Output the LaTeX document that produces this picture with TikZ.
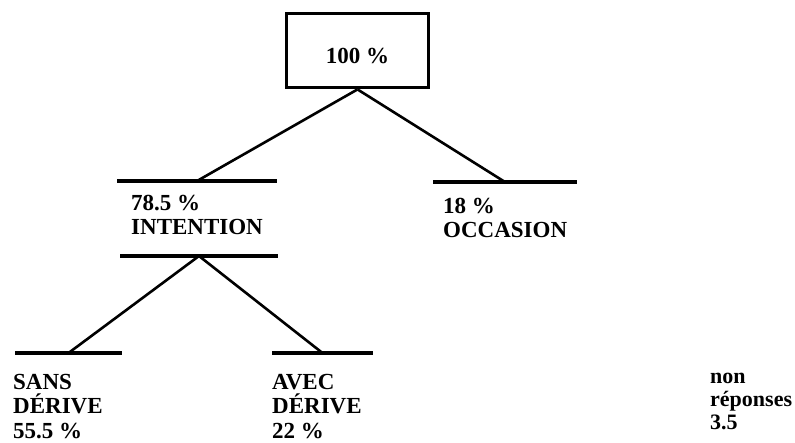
\documentclass[tikz,border=0pt]{standalone}
\usepackage{fontspec}
\setmainfont{Liberation Serif}
\usetikzlibrary{positioning}

\begin{document}
\begin{tikzpicture}[x=1pt,y=-1pt,
  lbl/.style={anchor=north west,inner sep=0pt,align=left,font=\fontsize{23}{24.5}\selectfont\bfseries},
  bar/.style={fill=black,inner sep=0pt,outer sep=0pt,minimum height=3.2pt},
  br/.style={line width=2.6pt}]
  \useasboundingbox (0,0) rectangle (795,442);
  \node[draw,line width=3.8pt,minimum width=142pt,minimum height=74pt,inner sep=0pt,
        text height=25pt,text depth=0pt,font=\fontsize{23}{25}\selectfont\bfseries] (total) at (357.5,50.5) {100 \%};
  % bars
  \node[bar,minimum width=160pt] (inttop) at (197,181) {};
  \node[bar,minimum width=158pt] (intbot) at (199,256) {};
  \node[bar,minimum width=144pt] (occ)    at (505,182) {};
  \node[bar,minimum width=107pt] (sans)   at (68.5,353) {};
  \node[bar,minimum width=101pt] (avec)   at (322.5,353) {};
  % branches
  \draw[br] (total.south) -- (inttop.center);
  \draw[br] (total.south) -- (occ.center);
  \draw[br] (intbot.center) -- (sans.center);
  \draw[br] (intbot.center) -- (avec.center);
  % labels
  \node[lbl] (intlbl)  at (131,195)   {78.5 \%\\INTENTION};
  \node[lbl] (occlbl)  at (443,197.5) {18 \%\\OCCASION};
  \node[lbl] (sanslbl) at (13,374)    {SANS\\DÉRIVE\\55.5 \%};
  \node[lbl] (aveclbl) at (272,374)   {AVEC\\DÉRIVE\\22 \%};
  \node[lbl,font=\fontsize{22}{23}\selectfont\bfseries] (nonrep) at (710,373) {non\\réponses\\3.5};
\end{tikzpicture}
\end{document}
